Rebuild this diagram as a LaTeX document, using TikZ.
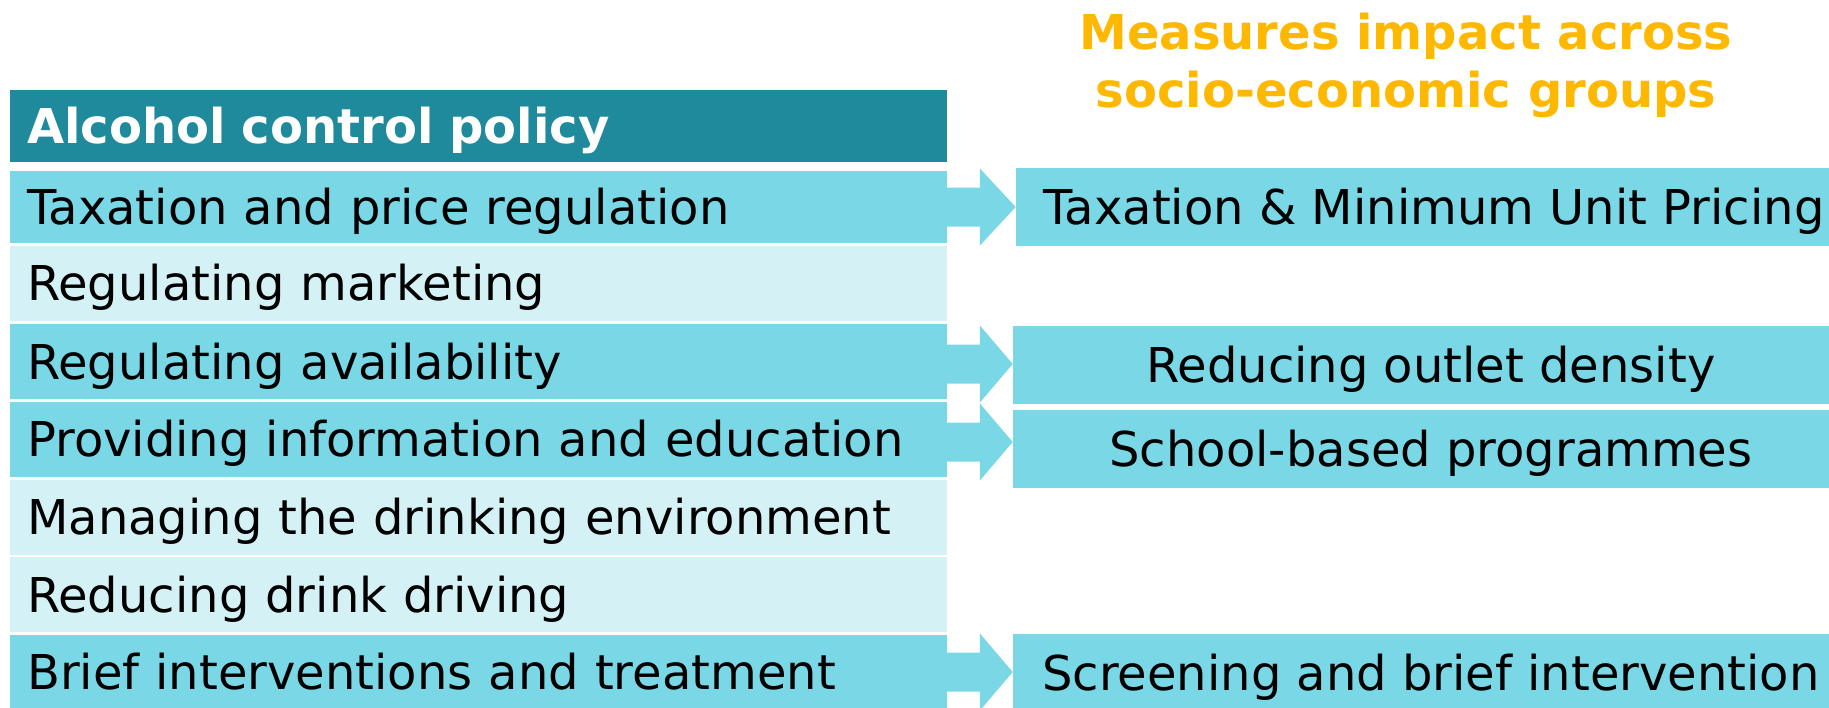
\documentclass[tikz,border=0pt]{standalone}
\usepackage{fontspec}
\setmainfont{DejaVu Sans}
\usepackage{tikz}
\usetikzlibrary{calc}
\definecolor{head}{HTML}{1F8A9B}
\definecolor{mid}{HTML}{79D7E6}
\definecolor{pale}{HTML}{D4F1F5}
\definecolor{gold}{HTML}{FFB800}
\tikzset{
  row/.style={anchor=west, fill=mid, minimum height=75pt, text width=902pt,
    inner xsep=17.5pt, inner ysep=0pt, text height=35pt, text depth=0pt,
    align=left, font=\fontsize{48}{57}\selectfont},
  measure/.style={anchor=west, fill=mid, minimum width=836pt, minimum height=77.7pt,
    inner sep=0pt, text height=35pt, text depth=0pt, font=\fontsize{48}{57}\selectfont},
  link/.style={fill=mid},
  title/.style={text=gold, align=center, anchor=base, inner sep=0pt,
    font=\bfseries\fontsize{48}{58.4}\selectfont},
}
% block arrow from a policy row to a measure box, centred at height #3
\newcommand{\pointer}[3]{%
  \coordinate (s) at (#1.east |- 0,#3);
  \fill[link] ($(s)+(0,-19.5)$) -- ($(s)+(33,-19.5)$) -- ($(s)+(33,-38.5)$)
    -- (#2.west |- s) -- ($(s)+(33,38.5)$) -- ($(s)+(33,19.5)$)
    -- ($(s)+(0,19.5)$) -- cycle;
}

\begin{document}
\begin{tikzpicture}[x=1pt, y=-1pt]
  \clip (0,0) rectangle (1829,707);

  % base anchor sits on the second line
  \node[title] (ttl) at (1406,107.7) {Measures impact across\\socio-economic groups};

  % policy column
  \node[row, fill=head, text=white, minimum height=72pt,
    font=\bfseries\fontsize{48}{57}\selectfont] (hdr) at (9.5,126.2) {Alcohol control policy};
  \node[row, minimum height=72pt] (tax) at (9.5,206.7) {Taxation and price regulation};
  \node[row, fill=pale] (mkt) at (9.5,283.2) {Regulating marketing};
  \node[row] (avail) at (9.5,361.6) {Regulating availability};
  \node[row] (info) at (9.5,439.3) {Providing information and education};
  \node[row, fill=pale] (env) at (9.5,517.2) {Managing the drinking environment};
  \node[row, fill=pale] (drive) at (9.5,594.8) {Reducing drink driving};
  \node[row] (brief) at (9.5,672) {Brief interventions and treatment};

  % measures column
  \node[measure] (mup) at (1015.7,206.9) {Taxation \& Minimum Unit Pricing};
  \node[measure] (outlet) at (1012.7,364.9) {Reducing outlet density};
  \node[measure] (school) at (1012.7,448.9) {School-based programmes};
  \node[measure] (screen) at (1012.7,672.9) {Screening and brief intervention};

  \pointer{tax}{mup}{207}
  \pointer{avail}{outlet}{364}
  \pointer{info}{school}{442}
  \pointer{brief}{screen}{672}
\end{tikzpicture}
\end{document}
